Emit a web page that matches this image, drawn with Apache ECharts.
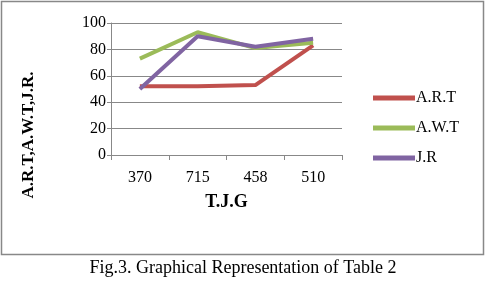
<!DOCTYPE html>
<html>
<head>
<meta charset="utf-8">
<script src="https://cdn.jsdelivr.net/npm/echarts@6/dist/echarts.min.js"></script>
<style>
html,body{margin:0;padding:0;background:#fff;}
#main{width:486px;height:284px;}
</style>
</head>
<body>
<div id="main"></div>
<script>
var categories = ['370', '715', '458', '510'];
var artData = [52, 52, 53, 83];   // A.R.T
var awtData = [73, 93, 81, 85];   // A.W.T
var jrData = [50, 90, 82, 88];    // J.R
var seriesNames = ['A.R.T', 'A.W.T', 'J.R'];

var serif = '"Liberation Serif", "DejaVu Serif", serif';
var chart = echarts.init(document.getElementById('main'));

var lineSeries = function(name, data, color){
	return {
		name: name,
		type: 'line',
		data: data,
		symbol: 'none',
		lineStyle: { width: 4, color: color },
		itemStyle: { color: color }
	};
};

chart.setOption({
	backgroundColor: '#fff',
	animation: false,
	color: ['#C0504D', '#9BBB59', '#8064A2'],
	grid: { left: 111, right: 144, top: 23, bottom: 129 },
	legend: {
		orient: 'vertical',
		left: 373,
		top: 90,
		padding: 0,
		icon: 'rect',
		itemWidth: 42,
		itemHeight: 5,
		itemGap: 14,
		data: seriesNames,
		textStyle: { fontFamily: serif, fontSize: 16, lineHeight: 16, color: '#000', padding: [0, 0, 0, -4] }
	},
	xAxis: {
		type: 'category',
		data: categories,
		boundaryGap: true,
		name: 'T.J.G',
		nameLocation: 'middle',
		nameGap: 38,
		nameTextStyle: { fontFamily: serif, fontSize: 18, fontWeight: 'bold', color: '#000' },
		axisLine: { lineStyle: { color: '#888' } },
		axisTick: { show: true, length: 5, lineStyle: { color: '#888' } },
		axisLabel: { fontFamily: serif, fontSize: 16, color: '#000', margin: 15 }
	},
	yAxis: {
		type: 'value',
		min: 0,
		max: 100,
		interval: 20,
		axisLine: { show: true, lineStyle: { color: '#888' } },
		axisTick: { show: true, length: 4, lineStyle: { color: '#888' } },
		axisLabel: { fontFamily: serif, fontSize: 16, color: '#000', margin: 5 },
		splitLine: { lineStyle: { color: '#888', width: 1 } }
	},
	series: [
		lineSeries(seriesNames[0], artData, '#C0504D'),
		lineSeries(seriesNames[1], awtData, '#9BBB59'),
		lineSeries(seriesNames[2], jrData, '#8064A2')
	],
	graphic: [
		{
			type: 'rect',
			shape: { x: 1.5, y: 1.5, width: 482, height: 253 },
			style: { fill: 'none', stroke: '#888', lineWidth: 1.5 },
			silent: true
		},
		{
			type: 'text',
			x: 29,
			y: 135,
			rotation: Math.PI / 2,
			style: {
				text: 'A.R.T,A.W.T,J.R.',
				font: 'bold 17px ' + serif,
				fill: '#000',
				textAlign: 'center',
				textVerticalAlign: 'middle'
			}
		},
		{
			type: 'text',
			x: 243,
			y: 268,
			style: {
				text: 'Fig.3. Graphical Representation of Table 2',
				font: '18px ' + serif,
				fill: '#000',
				textAlign: 'center',
				textVerticalAlign: 'middle'
			}
		}
	]
});
</script>
</body>
</html>
